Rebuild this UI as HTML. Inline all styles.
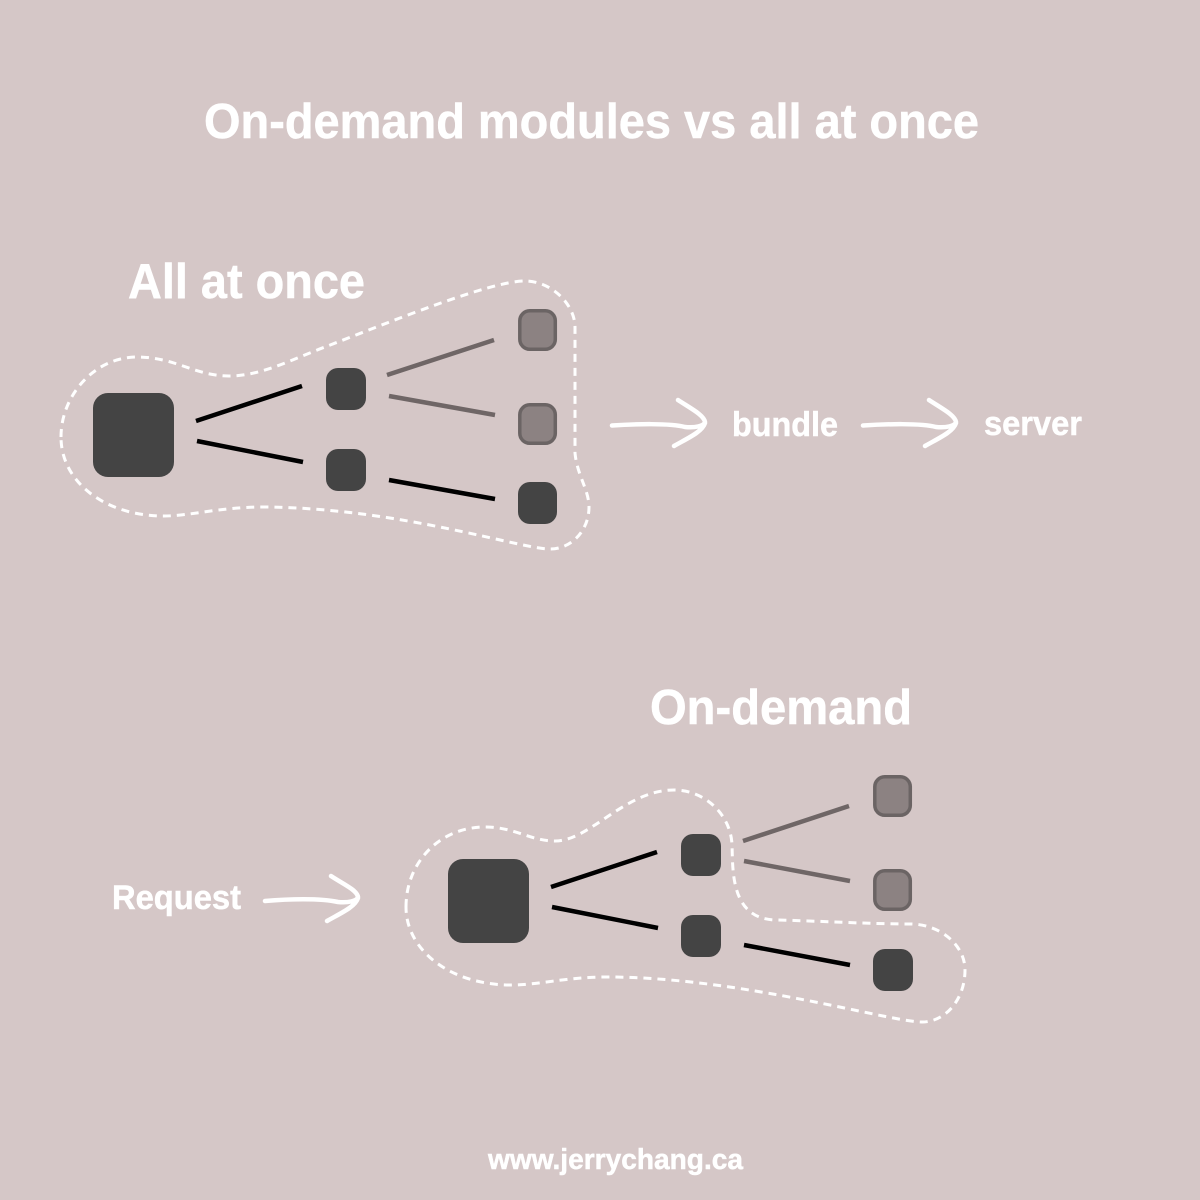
<!DOCTYPE html>
<html><head><meta charset="utf-8"><style>
html,body{margin:0;padding:0;background:#d5c7c7}
svg{display:block}
text{font-family:"Liberation Sans",sans-serif;font-weight:700;fill:#fff;stroke:#fff;stroke-width:.5}
</style></head><body>
<svg width="1200" height="1200" viewBox="0 0 1200 1200" xmlns="http://www.w3.org/2000/svg">
<rect width="1200" height="1200" fill="#d5c7c7"/>
<text x="204" y="138" font-size="49" textLength="775" lengthAdjust="spacingAndGlyphs">On-demand modules vs all at once</text>
<text x="128" y="298" font-size="49" textLength="237" lengthAdjust="spacingAndGlyphs">All at once</text>
<text x="650" y="724" font-size="49" textLength="262" lengthAdjust="spacingAndGlyphs">On-demand</text>
<text x="732" y="436" font-size="34" textLength="106" lengthAdjust="spacingAndGlyphs">bundle</text>
<text x="984" y="435" font-size="34" textLength="98" lengthAdjust="spacingAndGlyphs">server</text>
<text x="112" y="909" font-size="34" textLength="129" lengthAdjust="spacingAndGlyphs">Request</text>
<text x="488" y="1169" font-size="29" textLength="255" lengthAdjust="spacingAndGlyphs">www.jerrychang.ca</text>

<g fill="none" stroke="#fff" stroke-width="3" stroke-dasharray="8 6">
<path d="M61,437 C61,395 95,357 137,357 C175,357 195,376 229,376 C262,376 295,358 325,347 C390,322 490,281 525,281 C552,281 575,305 575,327 L575,453 C577,475 589,490 589,507 C589,530 572,549 550,549 C520,549 400,508 264,507 C220,507 190,516 164,516 C105,516 61,482 61,437 Z"/>
<path d="M406,907 C406,862 440,827 485,827 C515,827 530,841 555,841 C590,841 625,790 674,790 C705,790 731,815 732,845 C733,870 730,920 777,920 C820,921 870,924 910,924 C940,924 965,945 965,970 C965,1000 945,1022 922,1022 C890,1022 740,977 607,977 C565,977 540,985 511,985 C450,985 406,950 406,907 Z"/>
</g>

<g stroke="#000" stroke-width="4.5" fill="none">
<path d="M196,421 L302,386 M197,441 L303,462 M389,480 L495,499"/>
<path d="M551,887 L657,852 M552,907 L658,928 M744,945 L850,965"/>
</g>
<g stroke="#6f6666" stroke-width="4.5" fill="none">
<path d="M387,375 L494,340 M389,396 L495,415"/>
<path d="M743,841 L849,806 M744,861 L850,881"/>
</g>

<g fill="#444">
<rect x="93" y="393" width="81" height="84" rx="15"/>
<rect x="326" y="368" width="40" height="42" rx="12"/>
<rect x="326" y="449" width="40" height="42" rx="12"/>
<rect x="518" y="482" width="39" height="42" rx="12"/>
<rect x="448" y="859" width="81" height="84" rx="15"/>
<rect x="681" y="834" width="40" height="42" rx="12"/>
<rect x="681" y="915" width="40" height="42" rx="12"/>
<rect x="873" y="949" width="40" height="42" rx="12"/>
</g>
<g fill="#8c8282" stroke="#6b6464" stroke-width="3.5">
<rect x="519.8" y="310.8" width="35.5" height="38.5" rx="10"/>
<rect x="519.8" y="404.8" width="35.5" height="38.5" rx="10"/>
<rect x="874.8" y="776.8" width="35.5" height="38.5" rx="10"/>
<rect x="874.8" y="870.8" width="35.5" height="38.5" rx="10"/>
</g>

<g fill="none" stroke="#fff" stroke-width="4.5" stroke-linecap="round" stroke-linejoin="round">
<path d="M612,425.5 C635,424 670,423 685,427 C695,428 704,426 705,422 C704,415 690,408 678,400 M705,423 C702,432 688,438 674,446"/>
<path d="M863,425.5 C886,424 921,423 936,427 C946,428 955,426 956,422 C955,415 941,408 929,400 M956,423 C953,432 939,438 925,446"/>
<path d="M265,901 C288,899 320,898 338,902 C348,903 357,901 358,897 C357,890 343,884 331,876 M358,898 C355,907 341,913 327,921"/>
</g>
</svg>
</body></html>
